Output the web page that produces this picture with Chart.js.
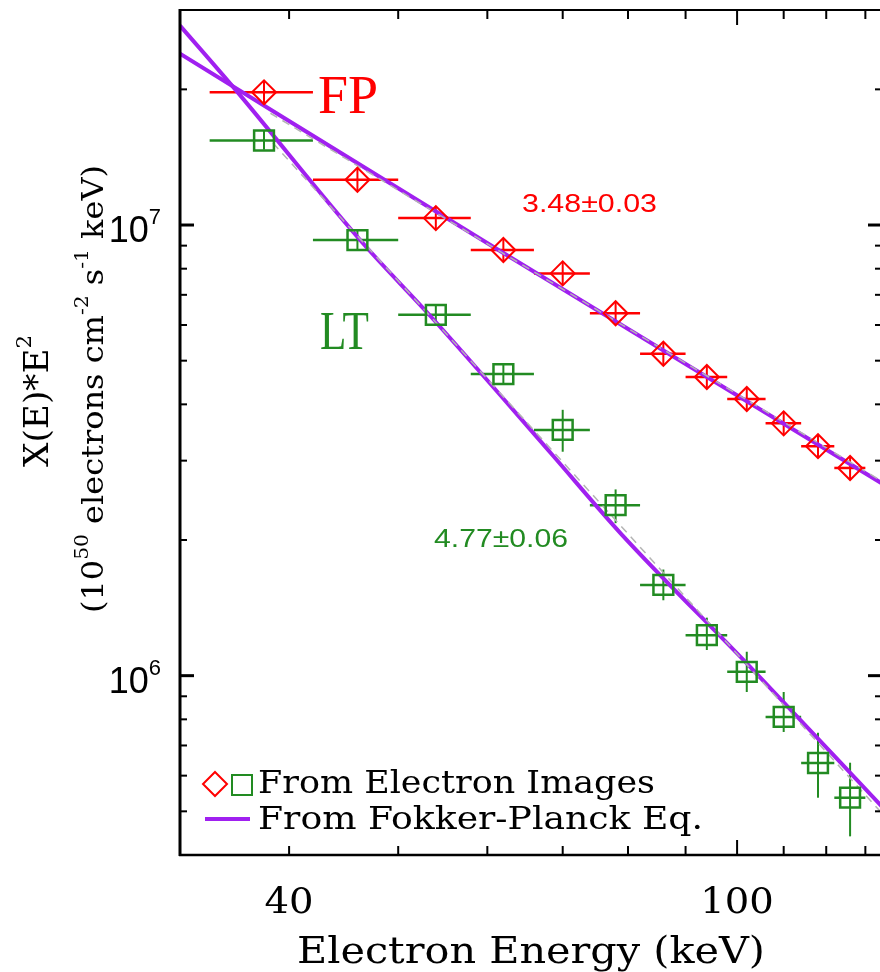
<!DOCTYPE html>
<html>
<head>
<meta charset="utf-8">
<script src="https://cdn.jsdelivr.net/npm/chart.js@4.4.0/dist/chart.umd.min.js"></script>
<style>
html, body { margin:0; padding:0; overflow:hidden; background:#fff; }
canvas { display:block; }
</style>
</head>
<body>
<canvas id="spectre" width="884" height="972"></canvas>
<script>
// bins en energie (keV)
const energie     = [38, 46, 54, 62, 70, 78, 86, 94, 102, 110, 118, 126];
const energieMin  = [34, 42, 50, 58, 66, 74, 82, 90, 98, 106, 114, 122];
const energieMax  = [42, 50, 58, 66, 74, 82, 90, 98, 106, 114, 122, 130];

// FP : points + barres d'erreur verticales
const fpVal  = [1.97e7, 1.26e7, 1.036e7, 8.80e6, 7.81e6, 6.37e6, 5.18e6, 4.60e6, 4.11e6, 3.63e6, 3.23e6, 2.89e6];
const fpBas  = [1.86e7, 1.19e7, 9.75e6, 8.30e6, 7.35e6, 6.00e6, 4.88e6, 4.33e6, 3.87e6, 3.42e6, 3.04e6, 2.72e6];
const fpHaut = [2.09e7, 1.34e7, 1.10e7, 9.35e6, 8.30e6, 6.77e6, 5.50e6, 4.88e6, 4.36e6, 3.86e6, 3.42e6, 3.07e6];

// LT
const ltVal  = [1.54e7, 9.26e6, 6.32e6, 4.67e6, 3.51e6, 2.39e6, 1.59e6, 1.23e6, 1.02e6, 8.10e5, 6.40e5, 5.36e5];
const ltBas  = [1.47e7, 8.80e6, 6.00e6, 4.45e6, 3.14e6, 2.18e6, 1.47e6, 1.14e6, 9.20e5, 7.50e5, 5.36e5, 4.40e5];
const ltHaut = [1.62e7, 9.70e6, 6.65e6, 4.90e6, 3.89e6, 2.59e6, 1.72e6, 1.345e6, 1.13e6, 9.20e5, 7.47e5, 6.41e5];

// courbes Fokker-Planck
const fpModeleE = [32, 62, 134.5];
const fpModele  = [2.40e7, 8.67e6, 2.67e6];
const ltModeleE = [32, 35.7, 46.5, 53.5, 68.3, 78.8, 103.3, 134.5];
const ltModele  = [2.77e7, 2.02e7, 9.12e6, 6.25e6, 3.12e6, 2.07e6, 1.03e6, 5.12e5];

// ajustements en loi de puissance (tirets gris)
const fpFitE = [38.5, 134.5];
const fpFit  = [1.77e7, 2.70e6];
const ltFitE = [38.7, 134.5];
const ltFit  = [1.52e7, 4.95e5];

// graduations
const xGrad     = [40, 50, 60, 70, 80, 90, 100, 110, 120, 130];
const xGradMaj  = [100];
const xEtiq     = [40, 100];
const yGradMaj  = [1e6, 1e7];
const yGradMin  = [4e5, 5e5, 6e5, 7e5, 8e5, 9e5, 2e6, 3e6, 4e6, 5e6, 6e6, 7e6, 8e6, 9e6, 2e7];
const yEtiq     = [[1e6, '6'], [1e7, '7']];

const ROUGE = '#ff0000', VERT = '#228b22', VIOLET = '#a020f0', GRIS = '#b4b4b4';
const SERIF = 'DejaVu Serif';

function pts(xs, ys) {
	return xs.map(function(x, i) { return {x: x, y: ys[i]}; });
}

// texte avec exposants ; parts = [[texte, exposant?], ...]
// o.w : largeur voulue (etirement horizontal)
function texte(ctx, parts, x, y, taille, o) {
	o = o || {};
	const famille = o.famille || SERIF;
	const poids = o.poids || 'normal';
	ctx.save();
	const fonts = parts.map(function(p) {
		return poids + ' ' + (p[1] ? Math.round(taille * 0.62) : taille) + 'px "' + famille + '"';
	});
	let w = 0;
	parts.forEach(function(p, i) { ctx.font = fonts[i]; w += ctx.measureText(p[0]).width; });
	const sx = o.w ? o.w / w : (o.sx || 1);
	ctx.translate(x, y);
	if (o.rot) ctx.rotate(o.rot);
	ctx.scale(sx, o.sy || 1);
	let cx = o.align === 'center' ? -w / 2 : (o.align === 'right' ? -w : 0);
	ctx.fillStyle = o.couleur || '#000';
	ctx.textAlign = 'left';
	ctx.textBaseline = 'alphabetic';
	parts.forEach(function(p, i) {
		ctx.font = fonts[i];
		ctx.fillText(p[0], cx, p[1] ? -taille * 0.5 : 0);
		cx += ctx.measureText(p[0]).width;
	});
	ctx.restore();
}

function ligne(ctx, x1, y1, x2, y2, lw, col) {
	ctx.beginPath();
	ctx.lineWidth = lw;
	ctx.strokeStyle = col;
	ctx.moveTo(x1, y1);
	ctx.lineTo(x2, y2);
	ctx.stroke();
}

const habillage = {
	id: 'habillage',
	// barres d'erreur sous les courbes
	beforeDatasetsDraw(chart) {
		const ctx = chart.ctx, xs = chart.scales.x, ys = chart.scales.y, a = chart.chartArea;
		ctx.save();
		ctx.beginPath();
		ctx.rect(a.left, a.top, a.right - a.left, a.bottom - a.top);
		ctx.clip();
		const series = [[fpVal, fpBas, fpHaut, ROUGE], [ltVal, ltBas, ltHaut, VERT]];
		for (const s of series) {
			for (let i = 0; i < energie.length; i++) {
				const px = xs.getPixelForValue(energie[i]);
				const py = ys.getPixelForValue(s[0][i]);
				ligne(ctx, xs.getPixelForValue(energieMin[i]), py, xs.getPixelForValue(energieMax[i]), py, 2.5, s[3]);
				ligne(ctx, px, ys.getPixelForValue(s[1][i]), px, ys.getPixelForValue(s[2][i]), 2, s[3]);
			}
		}
		ctx.restore();
	},
	afterDraw(chart) {
		const ctx = chart.ctx, xs = chart.scales.x, ys = chart.scales.y, a = chart.chartArea;
		ctx.save();
		ctx.lineCap = 'butt';

		// cadre
		ligne(ctx, a.left, a.top - 1, a.left, a.bottom + 1, 3, '#000');
		ligne(ctx, a.left - 1, a.bottom, a.right, a.bottom, 2.5, '#000');
		ligne(ctx, a.left - 1, a.top, a.right, a.top, 2, '#000');
		ligne(ctx, a.right, a.top, a.right, a.bottom, 2, '#000');

		// graduations x (bas et haut, vers l'interieur)
		for (const v of xGrad) {
			const px = xs.getPixelForValue(v);
			const l = xGradMaj.includes(v) ? 15 : 9;
			ligne(ctx, px, a.bottom, px, a.bottom - l, 2, '#000');
			ligne(ctx, px, a.top, px, a.top + l, 2, '#000');
		}
		// graduations y (gauche et droite)
		for (const v of yGradMaj) {
			const py = ys.getPixelForValue(v);
			ligne(ctx, a.left, py, a.left + 14, py, 3, '#000');
			ligne(ctx, a.right, py, a.right - 14, py, 3, '#000');
		}
		for (const v of yGradMin) {
			const py = ys.getPixelForValue(v);
			ligne(ctx, a.left, py, a.left + 7, py, 2, '#000');
			ligne(ctx, a.right, py, a.right - 7, py, 2, '#000');
		}

		// etiquettes
		for (const v of xEtiq) {
			texte(ctx, [[String(v)]], xs.getPixelForValue(v), 913, 36, {align: 'center', sx: 1.07});
		}
		for (const e of yEtiq) {
			const py = ys.getPixelForValue(e[0]);
			texte(ctx, [['10'], [e[1], 1]], 161, py + 17, 36, {align: 'right', famille: 'Liberation Sans'});
		}

		// titres des axes
		texte(ctx, [['Electron Energy (keV)']], 531, 963, 38, {align: 'center', w: 468});
		texte(ctx, [['X(E)*E'], ['2', 1]], 48, 401, 34, {align: 'center', w: 132, rot: -Math.PI / 2});
		texte(ctx, [['(10'], ['50', 1], [' electrons cm'], ['-2', 1], [' s'], ['-1', 1], [' keV)']],
			103, 389, 30, {align: 'center', w: 448, rot: -Math.PI / 2});

		// annotations
		texte(ctx, [['FP']], 318, 113, 54, {famille: 'Liberation Serif', couleur: ROUGE});
		texte(ctx, [['LT']], 320, 349, 54, {famille: 'Liberation Serif', couleur: VERT, sx: 0.8});
		texte(ctx, [['3.48\u00b10.03']], 522, 212, 26, {famille: 'Liberation Sans', couleur: ROUGE, w: 135});
		texte(ctx, [['4.77\u00b10.06']], 434, 547, 26, {famille: 'Liberation Sans', couleur: VERT, w: 134});

		// legende
		ctx.lineWidth = 2;
		ctx.strokeStyle = ROUGE;
		ctx.beginPath();
		ctx.moveTo(215, 772); ctx.lineTo(227, 784); ctx.lineTo(215, 796); ctx.lineTo(203, 784); ctx.closePath();
		ctx.stroke();
		ctx.strokeStyle = VERT;
		ctx.strokeRect(232, 775, 20, 20);
		ligne(ctx, 205, 819, 250, 819, 4, VIOLET);
		texte(ctx, [['From Electron Images']], 258, 793, 31, {w: 397});
		texte(ctx, [['From Fokker-Planck Eq.']], 258, 829, 31, {w: 445});
		ctx.restore();
	}
};

new Chart(document.getElementById('spectre'), {
	type: 'scatter',
	data: {
		datasets: [
			{ data: pts(energie, fpVal), pointStyle: 'rectRot', pointRadius: 12, pointBorderWidth: 2,
			  borderColor: ROUGE, backgroundColor: 'rgba(0,0,0,0)', order: 0 },
			{ data: pts(energie, ltVal), pointStyle: 'rect', pointRadius: 14, pointBorderWidth: 2.5,
			  borderColor: VERT, backgroundColor: 'rgba(0,0,0,0)', order: 0 },
			{ data: pts(fpFitE, fpFit), showLine: true, pointRadius: 0, borderColor: GRIS, borderWidth: 1.5,
			  borderDash: [8, 6], order: 1 },
			{ data: pts(ltFitE, ltFit), showLine: true, pointRadius: 0, borderColor: GRIS, borderWidth: 1.5,
			  borderDash: [8, 6], order: 1 },
			{ data: pts(fpModeleE, fpModele), showLine: true, pointRadius: 0, borderColor: VIOLET, borderWidth: 4,
			  cubicInterpolationMode: 'monotone', order: 2 },
			{ data: pts(ltModeleE, ltModele), showLine: true, pointRadius: 0, borderColor: VIOLET, borderWidth: 4,
			  cubicInterpolationMode: 'monotone', order: 2 }
		]
	},
	options: {
		responsive: false,
		animation: false,
		layout: { autoPadding: false, padding: { left: 180, top: 10, right: 2, bottom: 117 } },
		plugins: { legend: { display: false }, tooltip: { enabled: false } },
		scales: {
			x: { type: 'logarithmic', min: 32, max: 134.5, display: false },
			y: { type: 'logarithmic', min: 4e5, max: 3e7, display: false }
		}
	},
	plugins: [habillage]
});
</script>
</body>
</html>
